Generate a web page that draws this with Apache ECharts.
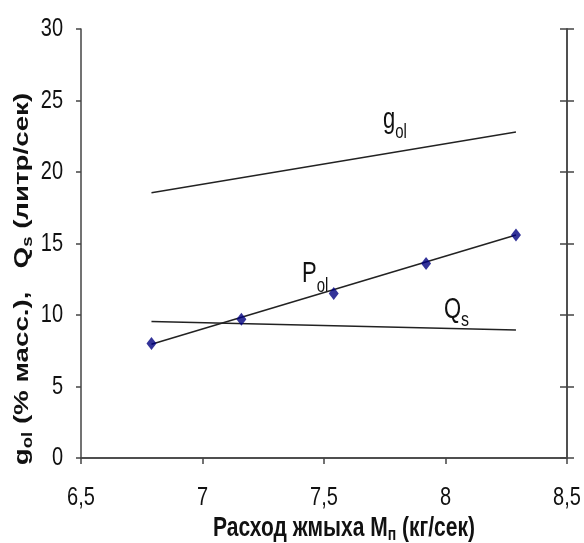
<!DOCTYPE html>
<html><head><meta charset="utf-8">
<script src="https://cdn.jsdelivr.net/npm/echarts@6/dist/echarts.min.js"></script>
<style>html,body{margin:0;padding:0;background:#fff}#c{width:584px;height:543px}</style>
</head><body><div id="c"></div>
<script>
// ---- data ----
const xValues   = [6.79, 7.16, 7.54, 7.92, 8.29];   // Расход жмыха M_п (кг/сек)
const polValues = [8.0, 9.7, 11.5, 13.6, 15.6];     // P_ol points
const polTrendX = [6.79, 8.29];
const polTrend  = [7.95, 15.6];                     // P_ol trend line
const golX      = [6.79, 8.29];
const golValues = [18.55, 22.8];                    // g_ol line
const qsX       = [6.79, 8.29];
const qsValues  = [9.55, 8.95];                     // Q_s line
const xTickValues = [6.5, 7, 7.5, 8, 8.5];
const xTickLabels = ['6,5', '7', '7,5', '8', '8,5'];
const yTickValues = [0, 5, 10, 15, 20, 25, 30];
const yTickLabels = ['0', '5', '10', '15', '20', '25', '30'];

const FAM = "'Liberation Sans', Arial, sans-serif";
const INK = '#111';
const AX = '#444';
const K = 1.32;   // the reference text is vertically stretched

const zip = (a, b) => a.map((v, i) => [v, b[i]]);

const ctx = document.createElement('canvas').getContext('2d');
function tw(text, size, weight) {
  ctx.font = `${weight} ${size}px ${FAM}`;
  return ctx.measureText(text).width;
}
// pieces: {t, size, dy}; children laid out along a baseline at local y=0
function runChildren(pieces, weight, align) {
  let total = 0;
  const w = pieces.map(p => { const v = tw(p.t, p.size, weight); total += v; return v; });
  let x = align === 'center' ? -total / 2 : 0;
  return pieces.map((p, i) => {
    const el = {
      type: 'text', x: x, y: (p.dy || 0) - 0.31 * p.size,
      style: { text: p.t, fontSize: p.size, fontFamily: FAM, fontWeight: weight,
               fill: INK, align: 'left', verticalAlign: 'middle' },
      silent: true
    };
    x += w[i];
    return el;
  });
}
function run(pieces, x, y, weight, align, rotated) {
  const g = { type: 'group', x: x, y: y, children: runChildren(pieces, weight, align) };
  if (rotated) { g.rotation = Math.PI / 2; g.scaleX = K; }
  else { g.scaleY = K; }
  return g;
}
function tickText(text, x, y, align) {
  return { type: 'group', x: x, y: y, scaleY: K, children: [{
    type: 'text', silent: true,
    style: { text: text, fontSize: 20, fontFamily: FAM, fill: INK,
             align: align, verticalAlign: 'middle' } }] };
}

const chart = echarts.init(document.getElementById('c'), null, { renderer: 'canvas' });

const axisLine = { show: true, lineStyle: { color: AX, width: 1.5 } };
const noLabel = { show: false };

chart.setOption({
  animation: false,
  backgroundColor: '#fff',
  grid: { left: 81, right: 17, top: 29, bottom: 85, containLabel: false },
  xAxis: [
    { type: 'value', position: 'bottom', min: 6.5, max: 8.5, interval: 0.5,
      axisLine: axisLine,
      axisTick: { show: true, length: 6, lineStyle: { color: AX, width: 1.5 } },
      axisLabel: noLabel, splitLine: { show: false } },
    { type: 'value', position: 'top', min: 6.5, max: 8.5, interval: 0.5,
      axisLine: axisLine, axisTick: { show: false }, axisLabel: noLabel,
      splitLine: { show: false } }
  ],
  yAxis: [
    { type: 'value', position: 'left', min: 0, max: 30, interval: 5,
      axisLine: axisLine,
      axisTick: { show: true, length: 5, lineStyle: { color: AX, width: 1.5 } },
      axisLabel: noLabel, splitLine: { show: false } },
    { type: 'value', position: 'right', min: 0, max: 30, interval: 5,
      axisLine: axisLine,
      axisTick: { show: true, length: 7, lineStyle: { color: AX, width: 1.5 } },
      axisLabel: noLabel, splitLine: { show: false } },
    { type: 'value', position: 'right', min: 0, max: 30, interval: 5,
      axisLine: axisLine,
      axisTick: { show: true, inside: true, length: 7, lineStyle: { color: AX, width: 1.5 } },
      axisLabel: noLabel, splitLine: { show: false } }
  ],
  series: [
    { type: 'line', data: zip(golX, golValues), symbol: 'none',
      lineStyle: { color: '#222', width: 1.5 }, z: 2 },
    { type: 'line', data: zip(qsX, qsValues), symbol: 'none',
      lineStyle: { color: '#222', width: 1.5 }, z: 2 },
    { type: 'line', data: zip(polTrendX, polTrend), symbol: 'none',
      lineStyle: { color: '#222', width: 1.5 }, z: 2 },
    { type: 'scatter', data: zip(xValues, polValues), symbol: 'diamond',
      symbolSize: [10, 13], itemStyle: { color: '#00007f' }, z: 5 }
  ]
});

// tick labels placed through the axes' own scales
const graphics = [];
xTickValues.forEach((v, i) => {
  const px = chart.convertToPixel({ xAxisIndex: 0 }, v);
  const baseY = chart.convertToPixel({ yAxisIndex: 0 }, 0);
  graphics.push(tickText(xTickLabels[i], px, baseY + 40, 'center'));
});
yTickValues.forEach((v, i) => {
  const py = chart.convertToPixel({ yAxisIndex: 0 }, v);
  const leftX = chart.convertToPixel({ xAxisIndex: 0 }, 6.5);
  graphics.push(tickText(yTickLabels[i], leftX - 18, py, 'right'));
});

// curve labels and axis titles
graphics.push(
  run([{ t: 'g', size: 22 }, { t: 'ol', size: 15, dy: 7 }], 383, 129, 'normal', 'left'),
  run([{ t: 'P', size: 22 }, { t: 'ol', size: 15, dy: 7 }], 302, 283, 'normal', 'left'),
  run([{ t: 'Q', size: 22 }, { t: 's', size: 16, dy: 6 }], 444, 319, 'normal', 'left'),
  run([{ t: 'Расход жмыха M', size: 21 }, { t: 'п', size: 14, dy: 3 },
       { t: ' (кг/сек)', size: 21 }], 344, 537, 'bold', 'center'),
  run([{ t: 'g', size: 21 }, { t: 'ol', size: 14, dy: 3 },
       { t: ' (% масс.),   Q', size: 21 }, { t: 's', size: 14, dy: 3 },
       { t: ' (литр/сек)', size: 21 }], 29, 279, 'bold', 'center', true)
);
chart.setOption({ graphic: graphics });
</script>
</body></html>
